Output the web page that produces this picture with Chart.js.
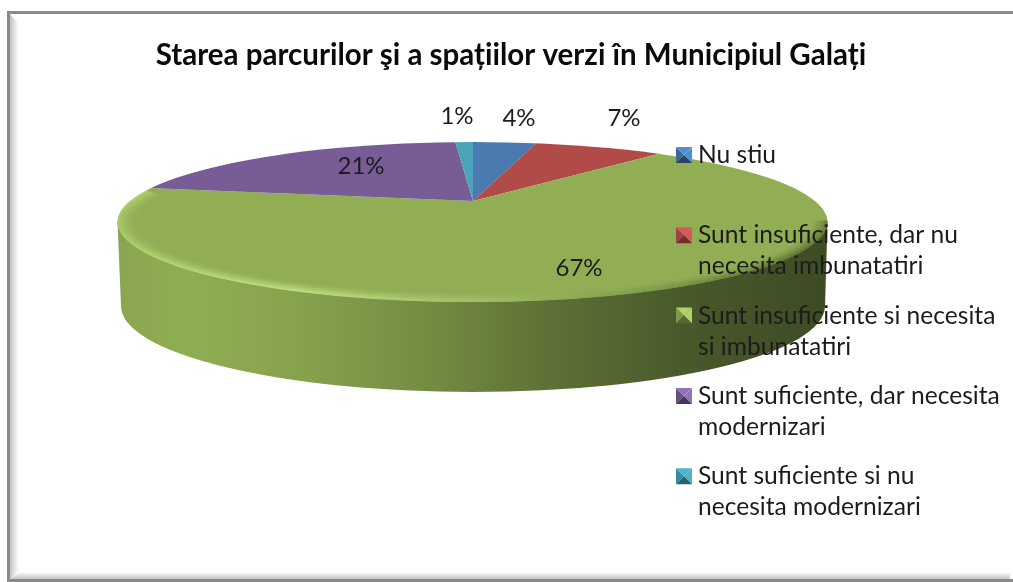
<!DOCTYPE html>
<html>
<head>
<meta charset="utf-8">
<style>
  html, body { margin: 0; padding: 0; background: #fff; }
  canvas { display: block; filter: blur(0.45px); }
</style>
<script src="https://cdn.jsdelivr.net/npm/chart.js@4"></script>
</head>
<body>
<canvas id="myChart" width="1013" height="582"></canvas>
<script>
// data
const chartTitle = "Starea parcurilor şi a spațiilor verzi în Municipiul Galați";
const categories = [
  ["Nu stiu"],
  ["Sunt insuficiente, dar nu", "necesita imbunatatiri"],
  ["Sunt insuficiente si necesita", "si imbunatatiri"],
  ["Sunt suficiente, dar necesita", "modernizari"],
  ["Sunt suficiente si nu", "necesita modernizari"]
];
const percentages = [3.6, 7.4, 67, 21, 1];
const sliceColors = ["#4a7ab0", "#b04b47", "#92ae55", "#775c95", "#4aa3b8"];
const keyLight = ["#4f8ed0", "#d8595c", "#b2d26a", "#9173b8", "#4cb3cb"];
const keyMid = ["#3a6596", "#a04342", "#7f9849", "#66507f", "#388ba0"];
const keyDark = ["#274465", "#6e2e2e", "#56682f", "#43355a", "#276273"];

// where the pie sits on the page
const apex = { x: 473, y: 201 };
const rim = { x: 472.5, y: 222, rx: 355, ry: 80 };
const flatten = 0.21;
// spots for the percent labels (same order as percentages)
const labelSpots = [[519, 118], [624, 118], [579, 268], [361, 166], [457, 116]];

function ellipsePath(ctx) {
  ctx.beginPath();
  ctx.ellipse(rim.x, rim.y, rim.rx, rim.ry, 0, 0, Math.PI * 2);
}

function tri(ctx, color, x1, y1, x2, y2, x3, y3) {
  ctx.fillStyle = color;
  ctx.beginPath();
  ctx.moveTo(x1, y1);
  ctx.lineTo(x2, y2);
  ctx.lineTo(x3, y3);
  ctx.closePath();
  ctx.fill();
}

const framePlugin = {
  id: 'frame',
  beforeDraw(chart) {
    const ctx = chart.ctx;
    ctx.save();
    ctx.fillStyle = '#fff';
    ctx.fillRect(0, 0, 1013, 582);
    // left bevel
    let g = ctx.createLinearGradient(10, 0, 19, 0);
    g.addColorStop(0, '#c4c4c4');
    g.addColorStop(1, '#ffffff');
    ctx.fillStyle = g;
    ctx.beginPath();
    ctx.moveTo(10, 14); ctx.lineTo(19, 24); ctx.lineTo(19, 570); ctx.lineTo(10, 579);
    ctx.fill();
    // bottom bevel
    g = ctx.createLinearGradient(0, 572, 0, 579);
    g.addColorStop(0, '#ffffff');
    g.addColorStop(1, '#c4c4c4');
    ctx.fillStyle = g;
    ctx.beginPath();
    ctx.moveTo(19, 572); ctx.lineTo(1010, 572); ctx.lineTo(1010, 579); ctx.lineTo(10, 579);
    ctx.fill();
    // border: top, left, bottom (the right side is open)
    ctx.fillStyle = '#8a8a8a';
    ctx.fillRect(7, 11, 1006, 3);
    ctx.fillRect(7, 11, 3, 571);
    ctx.fillRect(7, 579, 1006, 3);
    ctx.restore();
  }
};

const piePlugin = {
  id: 'flatPie',
  beforeDatasetDraw(chart, args) {
    const ctx = chart.ctx;
    const arcs = chart.getDatasetMeta(args.index).data;

    // side wall
    ctx.save();
    const wall = ctx.createLinearGradient(117, 0, 828, 0);
    wall.addColorStop(0, '#8aa650');
    wall.addColorStop(0.1, '#8fae52');
    wall.addColorStop(0.25, '#87a34d');
    wall.addColorStop(0.45, '#738a42');
    wall.addColorStop(0.6, '#5e7236');
    wall.addColorStop(0.8, '#48592a');
    wall.addColorStop(1, '#3e4b25');
    ctx.fillStyle = wall;
    ctx.beginPath();
    ctx.moveTo(117.5, 222);
    ctx.lineTo(121, 306);
    ctx.ellipse(473, 306, 352, 86, 0, Math.PI, 0, true);
    ctx.lineTo(827.5, 222);
    ctx.closePath();
    ctx.fill();
    ctx.restore();

    // top face: the library's arcs, flattened and cut to the rim
    ctx.save();
    ellipsePath(ctx);
    ctx.clip();
    ctx.save();
    ctx.translate(apex.x, apex.y);
    ctx.scale(1, flatten);
    ctx.translate(-arcs[0].x, -arcs[0].y);
    arcs.forEach(a => a.draw(ctx));
    ctx.restore();

    // soft bevel along the front edge
    const shine = ctx.createLinearGradient(117, 0, 828, 0);
    shine.addColorStop(0, 'rgba(178,215,110,1)');
    shine.addColorStop(0.25, 'rgba(195,228,135,1)');
    shine.addColorStop(0.5, 'rgba(165,198,105,0.9)');
    shine.addColorStop(0.75, 'rgba(120,150,70,0.8)');
    shine.addColorStop(1, 'rgba(70,88,42,0.85)');
    ctx.strokeStyle = shine;
    ctx.lineWidth = 2;
    for (let k = 0; k < 11; k++) {
      ctx.globalAlpha = 0.75 * Math.pow(1 - k / 11, 2);
      ctx.beginPath();
      ctx.ellipse(rim.x, rim.y, rim.rx - k * 1.9, rim.ry - k * 1.0, 0, -0.02, Math.PI + 0.4);
      ctx.stroke();
    }
    ctx.restore();
    return false;
  },
  afterDraw(chart) {
    const ctx = chart.ctx;
    ctx.save();
    ctx.fillStyle = '#1c1c1c';
    ctx.textBaseline = 'middle';

    // percent labels
    ctx.font = '24px Lato';
    ctx.textAlign = 'center';
    percentages.forEach((p, i) => {
      ctx.fillText(Math.round(p) + '%', labelSpots[i][0], labelSpots[i][1]);
    });

    // legend
    ctx.font = '24.6px Lato';
    ctx.textAlign = 'left';
    categories.forEach((lines, i) => {
      const top = 147 + i * 80.3;
      const x = 676, s = 16, cx = x + s / 2, cy = top + s / 2;
      tri(ctx, keyMid[i], x, top, cx, cy, x, top + s);
      tri(ctx, keyLight[i], x, top, x + s, top, cx, cy);
      tri(ctx, keyLight[i], x + s, top, x + s, top + s, cx, cy);
      tri(ctx, keyDark[i], x, top + s, cx, cy, x + s, top + s);
      ctx.fillStyle = '#1c1c1c';
      lines.forEach((line, j) => {
        ctx.fillText(line, 698, top + 8 + j * 31);
      });
    });
    ctx.restore();
  }
};

new Chart(document.getElementById("myChart"), {
  type: 'pie',
  data: {
    labels: categories,
    datasets: [{
      data: percentages,
      backgroundColor: sliceColors,
      borderWidth: 0,
      radius: 520
    }]
  },
  options: {
    responsive: false,
    animation: false,
    events: [],
    layout: { padding: { left: 9, top: 38 } },
    plugins: {
      legend: { display: false },
      tooltip: { enabled: false },
      title: {
        display: true,
        text: chartTitle,
        color: '#0a0a0a',
        font: { family: 'Lato', size: 29.5, weight: 'bold' },
        padding: { top: 0, bottom: 10 }
      }
    }
  },
  plugins: [framePlugin, piePlugin]
});
</script>
</body>
</html>
